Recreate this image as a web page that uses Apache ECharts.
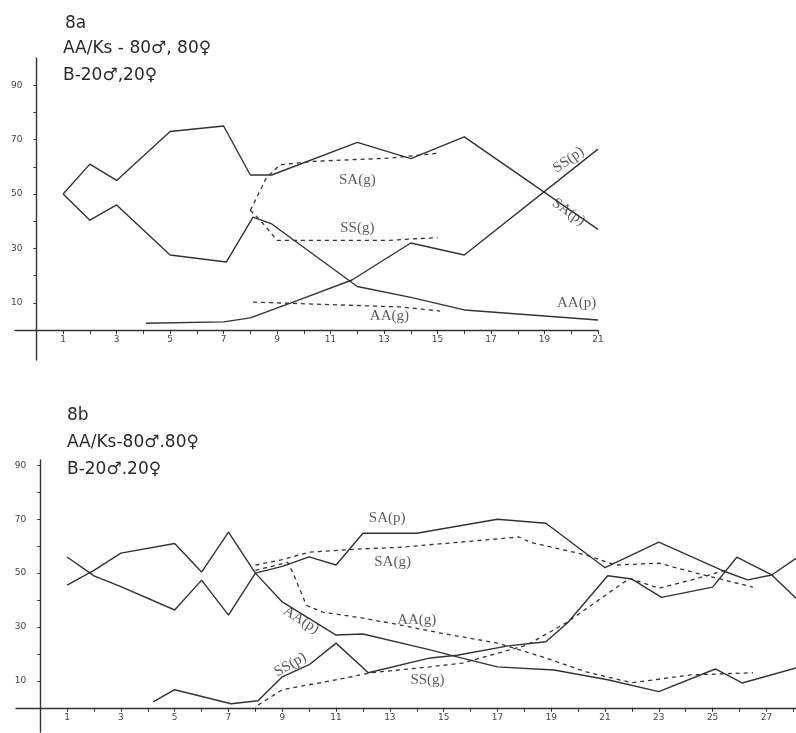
<!DOCTYPE html>
<html>
<head>
<meta charset="utf-8">
<script src="https://cdn.jsdelivr.net/npm/echarts@6/dist/echarts.min.js"></script>
<style>
  html, body { margin: 0; padding: 0; background: #fff; }
  #chart { width: 796px; height: 733px; }
</style>
</head>
<body>
<div id="chart"></div>
<script>
// 8a - [generation, percent]
var saPA = [[1,50],[2,61],[3,55],[5,73],[7,75],[8,57],[8.8,57],[12,69],[14,63],[16,71],[21,37]];
var aaPA = [[1,50],[2,40.4],[3,46],[5,27.6],[7.1,25],[8.1,41.5],[8.8,39],[12,16],[14,12],[16,7.4],[21,3.7]];
var ssPA = [[4.1,2.5],[7,3],[8,4.5],[9.8,11],[11.8,18.4],[14,32],[16,27.6],[21,66.5]];
var saGA = [[8,44],[8.3,50],[8.6,56],[9.1,60.7],[10.3,62],[13.2,63.2],[15,65]];
var ssGA = [[8,44],[8.4,40],[9,33],[13.2,33],[15,34]];
var aaGA = [[8.1,10.3],[13.6,8.5],[15.1,7]];

// 8b
var saPB = [[1,56],[2,49],[3,45],[5,36.3],[6,47.4],[7,34.4],[8,50],[9,52.5],[10,56],[11,53],[12,64.8],[14,64.8],[17,70],[18.8,68.5],[21,52],[23,61.5],[25.5,50.4],[26.3,47.5],[27.2,49.3],[28.1,55.5]];
var aaPB = [[1,45.5],[2,51],[3,57.4],[5,61],[6,50.4],[7,65.2],[8,50],[9,39.3],[11,27],[12,27.4],[14.5,21.5],[15.5,18.9],[17,15.2],[19.1,14],[21.1,10.4],[23,6],[25.1,14.4],[26.1,9.2],[28.1,14.8]];
var ssPB = [[4.2,2.2],[5,6.7],[7.1,1.5],[8.1,2.6],[9,11.5],[10,16],[11,24],[12.2,13],[14.5,18.5],[15.5,19.5],[17.4,23],[18.8,24.5],[19.6,31.5],[21.1,49],[22,47.8],[23.1,41],[25,44.8],[25.9,55.9],[27.2,49.3],[28.1,40.7]];
var saGB = [[8,53],[9,55],[10,57.8],[12,59],[13.4,59.6],[17.8,63.4],[18.2,61.5],[20.3,56.7],[21.4,53],[23,53.7],[24.4,50],[26.5,44.8]];
var ssGB = [[8.1,1],[9,6.7],[11,10.4],[12.3,13],[14.5,15.2],[15.7,16.6],[18.1,23.3],[19.6,31.8],[21.9,48],[23,44.4],[24.2,47.4],[25.5,51.1]];
var aaGB = [[8,51],[9.2,54],[9.4,50],[9.9,38],[10.5,35.5],[12,33.3],[13.4,30.7],[14.9,27.7],[17,24],[18.8,18.5],[20.3,13.3],[22,9.3],[24.2,12.2],[26.5,13]];

// curve names written on the plot: [text, x, y]
var labelsA = [['SA(g)',12,55],['SS(g)',12,37.5],['AA(g)',13.2,5.2],['SS(p)',19.9,62.5],['SA(p)',19.9,43.4],['AA(p)',20.2,10]];
var anglesA = [0,0,0,35,-35,0];
var labelsB = [['SA(p)',12.9,70.4],['SA(g)',13.1,54],['AA(g)',14,32.6],['AA(p)',9.7,32.6],['SS(p)',9.3,16],['SS(g)',14.4,10.4]];
var anglesB = [0,0,0,-32,30,0];

// tick labels
var xTicksA = [1,3,5,7,9,11,13,15,17,19,21];
var xTicksB = [1,3,5,7,9,11,13,15,17,19,21,23,25,27];
var yTicks = [10,30,50,70,90];

var ink = '#333';
var chart = echarts.init(document.getElementById('chart'));

// panel boxes and ranges
var gridA = { left: 15, top: 58, width: 583, height: 302 };
var gridB = { left: 16, top: 460, width: 780, height: 272 };
var xRangeA = [-0.8, 21], yRangeA = [-11, 100];
var xRangeB = [-0.9, 28.1], yRangeB = [-9, 92];

function range(a, b) {
  var r = [];
  for (var i = a; i <= b; i++) r.push(i);
  return r;
}

// axes cross at zero, with the hand-drawn overshoot past the origin
function xAxisFor(idx, xr, yr, grid, labels, last) {
  var off = -(0 - yr[0]) * grid.height / (yr[1] - yr[0]);
  return {
    type: 'value', gridIndex: idx, min: xr[0], max: xr[1], offset: off,
    axisLine: { onZero: false, lineStyle: { color: ink, width: 1.4 } },
    axisTick: { show: true, length: 4, customValues: range(1, last), lineStyle: { color: ink } },
    axisLabel: { customValues: labels, color: '#444', fontSize: 9, fontFamily: 'DejaVu Sans', margin: 5 },
    splitLine: { show: false }
  };
}

function yAxisFor(idx, xr, yr, grid) {
  var off = -(0 - xr[0]) * grid.width / (xr[1] - xr[0]);
  return {
    type: 'value', gridIndex: idx, min: yr[0], max: yr[1], offset: off,
    axisLine: { onZero: false, lineStyle: { color: ink, width: 1.4 } },
    axisTick: { show: true, length: 3, customValues: [10,20,30,40,50,60,70,80,90], lineStyle: { color: ink } },
    axisLabel: { customValues: yTicks, color: '#444', fontSize: 9, fontFamily: 'DejaVu Sans', margin: 14 },
    splitLine: { show: false }
  };
}

function lineSeries(name, data, idx, dashed) {
  return {
    name: name, type: 'line', data: data,
    xAxisIndex: idx, yAxisIndex: idx,
    symbol: 'none', silent: true,
    lineStyle: { color: ink, width: dashed ? 1.3 : 1.4, type: dashed ? [4, 4] : 'solid' }
  };
}

function labelSeries(list, angles, idx) {
  return {
    type: 'scatter', xAxisIndex: idx, yAxisIndex: idx, symbolSize: 0, silent: true,
    data: list.map(function (l, i) {
      return { name: l[0], value: [l[1], l[2]], label: { rotate: angles[i] } };
    }),
    label: {
      show: true, position: 'inside', formatter: '{b}',
      color: '#333', fontSize: 15, fontFamily: 'Liberation Serif'
    }
  };
}

var titleStyle = { color: '#2a2a2a', fontSize: 17, fontWeight: 'normal', fontFamily: 'DejaVu Sans' };

var option = {
  animation: false,
  backgroundColor: '#fff',
  title: [
    { text: '8a', left: 60, top: 10, textStyle: titleStyle },
    { text: 'AA/Ks - 80♂, 80♀', left: 58, top: 35, textStyle: titleStyle },
    { text: 'B-20♂,20♀', left: 58, top: 62, textStyle: titleStyle },
    { text: '8b', left: 62, top: 402, textStyle: titleStyle },
    { text: 'AA/Ks-80♂.80♀', left: 62, top: 429, textStyle: titleStyle },
    { text: 'B-20♂.20♀', left: 62, top: 456, textStyle: titleStyle }
  ],
  grid: [
    Object.assign({ outerBoundsMode: 'none', containLabel: false }, gridA),
    Object.assign({ outerBoundsMode: 'none', containLabel: false }, gridB)
  ],
  xAxis: [
    xAxisFor(0, xRangeA, yRangeA, gridA, xTicksA, 21),
    xAxisFor(1, xRangeB, yRangeB, gridB, xTicksB, 28)
  ],
  yAxis: [
    yAxisFor(0, xRangeA, yRangeA, gridA),
    yAxisFor(1, xRangeB, yRangeB, gridB)
  ],
  series: [
    lineSeries('SA(p)', saPA, 0, false),
    lineSeries('AA(p)', aaPA, 0, false),
    lineSeries('SS(p)', ssPA, 0, false),
    lineSeries('SA(g)', saGA, 0, true),
    lineSeries('SS(g)', ssGA, 0, true),
    lineSeries('AA(g)', aaGA, 0, true),
    labelSeries(labelsA, anglesA, 0),
    lineSeries('SA(p)', saPB, 1, false),
    lineSeries('AA(p)', aaPB, 1, false),
    lineSeries('SS(p)', ssPB, 1, false),
    lineSeries('SA(g)', saGB, 1, true),
    lineSeries('SS(g)', ssGB, 1, true),
    lineSeries('AA(g)', aaGB, 1, true),
    labelSeries(labelsB, anglesB, 1)
  ]
};

chart.setOption(option);
</script>
</body>
</html>
